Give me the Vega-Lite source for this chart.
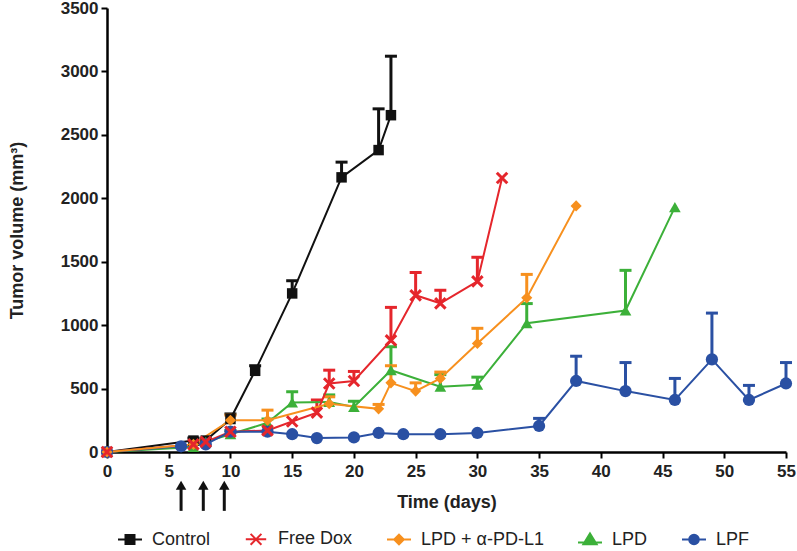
{
  "$schema": "https://vega.github.io/schema/vega-lite/v6.json",
  "width": 679,
  "height": 444,
  "autosize": {"type": "none"},
  "padding": {"left": 107, "top": 8, "right": 11, "bottom": 99},
  "background": "white",
  "config": {
    "view": {"stroke": null},
    "font": "Liberation Sans",
    "axis": {
      "grid": false,
      "domainColor": "#000000",
      "domainWidth": 2.5,
      "tickColor": "#000000",
      "tickWidth": 2,
      "tickSize": 6,
      "labelFont": "Liberation Sans",
      "labelFontWeight": "bold",
      "labelFontSize": 17,
      "labelColor": "#222222",
      "titleFont": "Liberation Sans",
      "titleFontWeight": "bold",
      "titleFontSize": 18,
      "titleColor": "#222222"
    }
  },
  "datasets": {
    "series": [
      {"g": "Control", "day": 0, "v": 0, "e": null},
      {"g": "Control", "day": 7, "v": 90, "e": 110},
      {"g": "Control", "day": 8, "v": 90, "e": 105},
      {"g": "Control", "day": 10, "v": 260, "e": 300},
      {"g": "Control", "day": 12, "v": 640, "e": 680},
      {"g": "Control", "day": 15, "v": 1250, "e": 1350},
      {"g": "Control", "day": 19, "v": 2165, "e": 2285},
      {"g": "Control", "day": 22, "v": 2380, "e": 2705},
      {"g": "Control", "day": 23, "v": 2655, "e": 3120},
      {"g": "LPD", "day": 0, "v": 0, "e": null},
      {"g": "LPD", "day": 7, "v": 40, "e": null},
      {"g": "LPD", "day": 8, "v": 80, "e": null},
      {"g": "LPD", "day": 10, "v": 140, "e": 170},
      {"g": "LPD", "day": 13, "v": 230, "e": 260},
      {"g": "LPD", "day": 15, "v": 390, "e": 475},
      {"g": "LPD", "day": 18, "v": 395, "e": 450},
      {"g": "LPD", "day": 20, "v": 355, "e": 400},
      {"g": "LPD", "day": 23, "v": 645, "e": 830},
      {"g": "LPD", "day": 27, "v": 515, "e": 610},
      {"g": "LPD", "day": 30, "v": 530, "e": 590},
      {"g": "LPD", "day": 34, "v": 1015, "e": 1170},
      {"g": "LPD", "day": 42, "v": 1115, "e": 1432},
      {"g": "LPD", "day": 46, "v": 1930, "e": null},
      {"g": "Free Dox", "day": 0, "v": 0, "e": null},
      {"g": "Free Dox", "day": 7, "v": 60, "e": null},
      {"g": "Free Dox", "day": 8, "v": 80, "e": null},
      {"g": "Free Dox", "day": 10, "v": 160, "e": null},
      {"g": "Free Dox", "day": 13, "v": 170, "e": null},
      {"g": "Free Dox", "day": 15, "v": 240, "e": null},
      {"g": "Free Dox", "day": 17, "v": 310, "e": 410},
      {"g": "Free Dox", "day": 18, "v": 540, "e": 645},
      {"g": "Free Dox", "day": 20, "v": 560, "e": 635},
      {"g": "Free Dox", "day": 23, "v": 880, "e": 1140},
      {"g": "Free Dox", "day": 25, "v": 1235, "e": 1415},
      {"g": "Free Dox", "day": 27, "v": 1172, "e": 1275},
      {"g": "Free Dox", "day": 30, "v": 1345, "e": 1535},
      {"g": "Free Dox", "day": 32, "v": 2160, "e": null},
      {"g": "LPF", "day": 0, "v": 0, "e": null},
      {"g": "LPF", "day": 6, "v": 45, "e": null},
      {"g": "LPF", "day": 8, "v": 60, "e": null},
      {"g": "LPF", "day": 10, "v": 160, "e": null},
      {"g": "LPF", "day": 13, "v": 160, "e": null},
      {"g": "LPF", "day": 15, "v": 140, "e": null},
      {"g": "LPF", "day": 17, "v": 110, "e": null},
      {"g": "LPF", "day": 20, "v": 115, "e": null},
      {"g": "LPF", "day": 22, "v": 150, "e": null},
      {"g": "LPF", "day": 24, "v": 140, "e": null},
      {"g": "LPF", "day": 27, "v": 140, "e": null},
      {"g": "LPF", "day": 30, "v": 150, "e": null},
      {"g": "LPF", "day": 35, "v": 205, "e": 265},
      {"g": "LPF", "day": 38, "v": 560, "e": 755},
      {"g": "LPF", "day": 42, "v": 480, "e": 705},
      {"g": "LPF", "day": 46, "v": 410, "e": 580},
      {"g": "LPF", "day": 49, "v": 730, "e": 1095},
      {"g": "LPF", "day": 52, "v": 410, "e": 525},
      {"g": "LPF", "day": 55, "v": 540, "e": 705},
      {"g": "LPD + α-PD-L1", "day": 0, "v": 0, "e": null},
      {"g": "LPD + α-PD-L1", "day": 7, "v": 60, "e": null},
      {"g": "LPD + α-PD-L1", "day": 10, "v": 250, "e": 290},
      {"g": "LPD + α-PD-L1", "day": 13, "v": 250, "e": 330},
      {"g": "LPD + α-PD-L1", "day": 18, "v": 380, "e": 435},
      {"g": "LPD + α-PD-L1", "day": 22, "v": 340, "e": 375},
      {"g": "LPD + α-PD-L1", "day": 23, "v": 545, "e": 680},
      {"g": "LPD + α-PD-L1", "day": 25, "v": 480, "e": 545},
      {"g": "LPD + α-PD-L1", "day": 27, "v": 580, "e": 630},
      {"g": "LPD + α-PD-L1", "day": 30, "v": 855, "e": 975},
      {"g": "LPD + α-PD-L1", "day": 34, "v": 1215, "e": 1400},
      {"g": "LPD + α-PD-L1", "day": 38, "v": 1940, "e": null}
    ],
    "arrows": [
      {"day": 6},
      {"day": 7.8},
      {"day": 9.5}
    ]
  },
  "layer": [
    {
      "data": {"name": "series"},
      "transform": [{"filter": "datum.e != null"}],
      "mark": {"type": "rule", "strokeWidth": 3},
      "encoding": {
        "x": {"field": "day", "type": "quantitative"},
        "y": {"field": "v", "type": "quantitative"},
        "y2": {"field": "e"},
        "color": {"field": "g", "type": "nominal"}
      }
    },
    {
      "data": {"name": "series"},
      "transform": [{"filter": "datum.e != null"}],
      "mark": {"type": "point", "shape": "M-1,0H1", "size": 144, "filled": false, "strokeWidth": 3, "opacity": 1},
      "encoding": {
        "x": {"field": "day", "type": "quantitative"},
        "y": {"field": "e", "type": "quantitative"},
        "color": {"field": "g", "type": "nominal"}
      }
    },
    {
      "data": {"name": "series"},
      "mark": {"type": "line", "strokeWidth": 2},
      "encoding": {
        "x": {
          "field": "day", "type": "quantitative",
          "scale": {"domain": [0, 55], "nice": false, "zero": false},
          "axis": {"title": "Time (days)", "values": [0,5,10,15,20,25,30,35,40,45,50,55], "labelFlush": false, "labelOverlap": false, "labelPadding": 5, "titlePadding": 14}
        },
        "y": {
          "field": "v", "type": "quantitative",
          "scale": {"domain": [0, 3500], "nice": false},
          "axis": {"title": "Tumor volume (mm³)", "format": "d", "values": [0,500,1000,1500,2000,2500,3000,3500], "labelFlush": false, "labelOverlap": false, "labelPadding": 3, "titlePadding": 34}
        },
        "color": {
          "field": "g", "type": "nominal",
          "scale": {
            "domain": ["Control", "Free Dox", "LPD + α-PD-L1", "LPD", "LPF"],
            "range": ["#111111", "#e5262c", "#f7901e", "#3cb039", "#2a50a3"]
          },
          "legend": {
            "title": null,
            "orient": "none",
            "legendX": 14,
            "legendY": 522,
            "direction": "horizontal",
            "padding": 0,
            "labelFont": "Liberation Sans",
            "labelFontSize": 18,
            "labelColor": "#222222",
            "symbolSize": 144,
            "labelOffset": 13,
            "columnPadding": 30,
            "symbolStrokeWidth": 2,
            "encode": {
              "symbols": {
                "update": {
                  "shape": {"signal": "datum.value === 'Control' ? 'M-2,0H2M-0.75,-0.75H0.75V0.75H-0.75Z' : datum.value === 'Free Dox' ? 'M-1.7,0H1.7M-0.9,-0.9L0.9,0.9M-0.9,0.9L0.9,-0.9' : datum.value === 'LPD' ? 'M-2,0.5H2M0,-1L1.1,0.8H-1.1Z' : datum.value === 'LPF' ? 'M-2,0H2M-0.8,0A0.8,0.8,0,1,1,0.8,0A0.8,0.8,0,1,1,-0.8,0Z' : 'M-2,0H2M0,-0.8L0.8,0L0,0.8L-0.8,0Z'"},
                  "fill": {"signal": "scale('color', datum.value)"},
                  "stroke": {"signal": "scale('color', datum.value)"},
                  "strokeWidth": {"value": 2},
                  "opacity": {"value": 1}
                }
              }
            }
          }
        }
      }
    },
    {
      "data": {"name": "series"},
      "transform": [{"filter": "datum.g != 'Free Dox'"}],
      "mark": {"type": "point", "filled": true, "opacity": 1},
      "encoding": {
        "x": {"field": "day", "type": "quantitative"},
        "y": {"field": "v", "type": "quantitative"},
        "color": {"field": "g", "type": "nominal"},
        "shape": {
          "field": "g", "type": "nominal", "legend": null,
          "scale": {"domain": ["Control", "LPD + α-PD-L1", "LPD", "LPF"], "range": ["square", "diamond", "triangle-up", "circle"]}
        },
        "size": {
          "field": "g", "type": "nominal", "legend": null,
          "scale": {"domain": ["Control", "LPD + α-PD-L1", "LPD", "LPF"], "range": [110, 150, 190, 170]}
        }
      }
    },
    {
      "data": {"name": "series"},
      "transform": [{"filter": "datum.g == 'Free Dox'"}],
      "mark": {"type": "point", "filled": false, "shape": "M-1,-1L1,1M-1,1L1,-1", "size": 110, "strokeWidth": 3, "opacity": 1},
      "encoding": {
        "x": {"field": "day", "type": "quantitative"},
        "y": {"field": "v", "type": "quantitative"},
        "color": {"field": "g", "type": "nominal"}
      }
    },
    {
      "data": {"name": "arrows"},
      "mark": {"type": "rule", "strokeWidth": 3, "color": "#111111"},
      "encoding": {
        "x": {"field": "day", "type": "quantitative"},
        "y": {"datum": -464},
        "y2": {"datum": -255}
      }
    },
    {
      "data": {"name": "arrows"},
      "mark": {"type": "point", "shape": "triangle-up", "filled": true, "size": 110, "color": "#111111", "opacity": 1},
      "encoding": {
        "x": {"field": "day", "type": "quantitative"},
        "y": {"datum": -262}
      }
    }
  ]
}
